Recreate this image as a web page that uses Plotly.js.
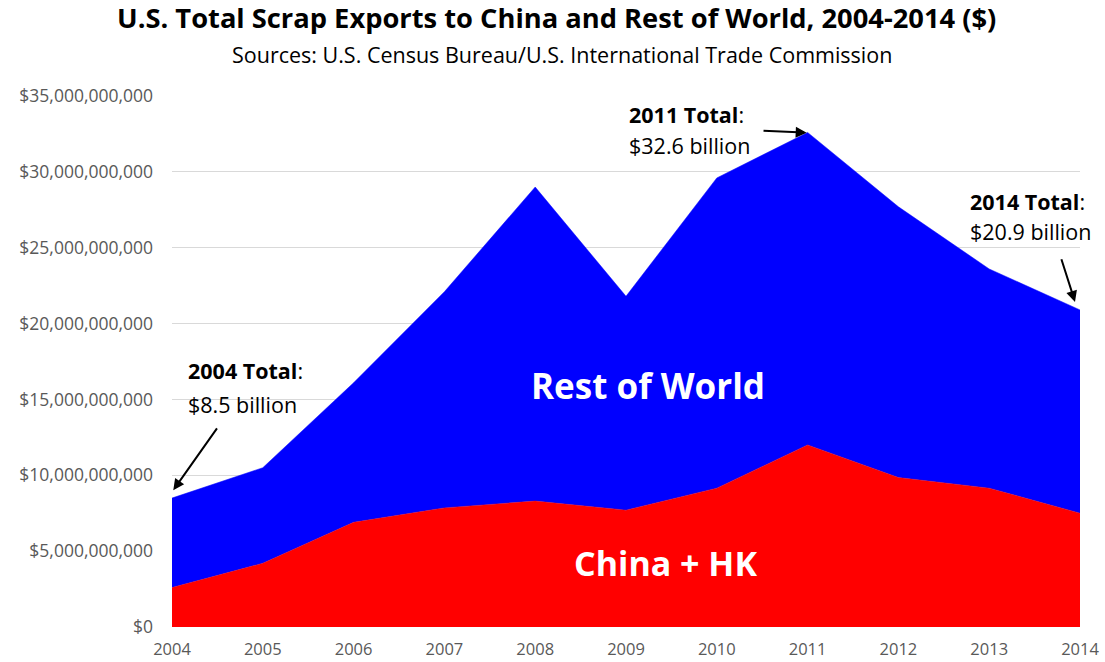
<!DOCTYPE html>
<html>
<head>
<meta charset="utf-8">
<script src="https://cdn.plot.ly/plotly-3.0.1.min.js"></script>
<style>
  html, body { margin: 0; padding: 0; background: #ffffff; }
  #chart { width: 1105px; height: 662px; }
</style>
</head>
<body>
<div id="chart"></div>
<script>
// Years (x categories)
const years = [2004, 2005, 2006, 2007, 2008, 2009, 2010, 2011, 2012, 2013, 2014];
// U.S. scrap exports to China + Hong Kong ($)
const chinaHK = [2.6e9, 4.2e9, 6.9e9, 7.85e9, 8.3e9, 7.7e9, 9.15e9, 12.0e9, 9.85e9, 9.15e9, 7.5e9];
// U.S. total scrap exports, all destinations ($)
const totalExports = [8.5e9, 10.5e9, 16.1e9, 22.1e9, 29.0e9, 21.8e9, 29.6e9, 32.6e9, 27.7e9, 23.6e9, 20.9e9];
// Y-axis tick values and labels
const yTicks = [0, 5e9, 10e9, 15e9, 20e9, 25e9, 30e9, 35e9];
const yTickLabels = ['$0', '$5,000,000,000', '$10,000,000,000', '$15,000,000,000', '$20,000,000,000',
                     '$25,000,000,000', '$30,000,000,000', '$35,000,000,000'];

const FONT = '"Open Sans", Lato, sans-serif';
const GREY = '#595959';

const traces = [
  {
    x: years, y: chinaHK, type: 'scatter', mode: 'lines',
    name: 'China + HK', fill: 'tozeroy', fillcolor: '#ff0000',
    line: { color: '#ff0000', width: 0.5 }, hoverinfo: 'skip'
  },
  {
    x: years, y: totalExports, type: 'scatter', mode: 'lines',
    name: 'Rest of World', fill: 'tonexty', fillcolor: '#0000ff',
    line: { color: '#0000ff', width: 0.5 }, hoverinfo: 'skip'
  }
];

function arrow(x, y, ax, ay) {
  return { x: x, y: y, ax: ax, ay: ay, xref: 'x', yref: 'y', axref: 'x', ayref: 'y',
           text: '', showarrow: true, arrowhead: 2, arrowsize: 1.1, arrowwidth: 2, arrowcolor: '#000000' };
}
function label(x, y, txt) {
  return { x: x, y: y, xref: 'x', yref: 'y', text: txt, showarrow: false,
           xanchor: 'left', yanchor: 'middle',
           font: { family: FONT, size: 21.5, color: '#000000' } };
}

const layout = {
  width: 1105, height: 662,
  margin: { l: 172, r: 25, t: 96, b: 35, pad: 0 },
  paper_bgcolor: '#ffffff', plot_bgcolor: '#ffffff',
  showlegend: false,
  font: { family: FONT, color: GREY },
  xaxis: {
    range: [2004, 2014], tickvals: years, ticktext: years.map(String),
    showgrid: false, zeroline: false, showline: false, ticks: '',
    ticklabelstandoff: 10,
    tickfont: { family: FONT, size: 16.5, color: GREY }
  },
  yaxis: {
    range: [0, 35e9], tickvals: yTicks, ticktext: yTickLabels,
    showgrid: true, gridcolor: '#d9d9d9', gridwidth: 1, zeroline: false,
    showline: false, ticks: '', ticklabelstandoff: 18,
    tickfont: { family: FONT, size: 17.5, color: GREY }
  },
  annotations: [
    { xref: 'paper', yref: 'paper', x: 0.423, y: 1.147, xanchor: 'center', yanchor: 'middle',
      showarrow: false, text: '<b>U.S. Total Scrap Exports to China and Rest of World, 2004-2014 ($)</b>',
      font: { family: FONT, size: 27.3, color: '#000000' } },
    { xref: 'paper', yref: 'paper', x: 0.43, y: 1.079, xanchor: 'center', yanchor: 'middle',
      showarrow: false, text: 'Sources: U.S. Census Bureau/U.S. International Trade Commission',
      font: { family: FONT, size: 21.5, color: '#000000' } },

    label(2004.154, 16.93e9, '<b>2004 Total</b>:'),
    label(2004.154, 14.69e9, '$8.5 billion'),
    arrow(2004.014, 9.02e9, 2004.507, 13.19e9),

    label(2009.008, 33.75e9, '<b>2011 Total</b>:'),
    label(2009.008, 31.72e9, '$32.6 billion'),
    arrow(2010.99, 32.58e9, 2010.498, 32.71e9),

    label(2012.77, 28.03e9, '<b>2014 Total</b>:'),
    label(2012.77, 26.05e9, '$20.9 billion'),
    arrow(2013.945, 21.43e9, 2013.79, 24.34e9),

    { x: 2009.24, y: 15.94e9, xref: 'x', yref: 'y', showarrow: false, xanchor: 'center', yanchor: 'middle',
      text: '<b>Rest of World</b>', font: { family: FONT, size: 35, color: '#ffffff' } },
    { x: 2009.44, y: 4.2e9, xref: 'x', yref: 'y', showarrow: false, xanchor: 'center', yanchor: 'middle',
      text: '<b>China + HK</b>', font: { family: FONT, size: 34, color: '#ffffff' } }
  ]
};

Plotly.newPlot('chart', traces, layout, { staticPlot: true, displayModeBar: false });
</script>
</body>
</html>
